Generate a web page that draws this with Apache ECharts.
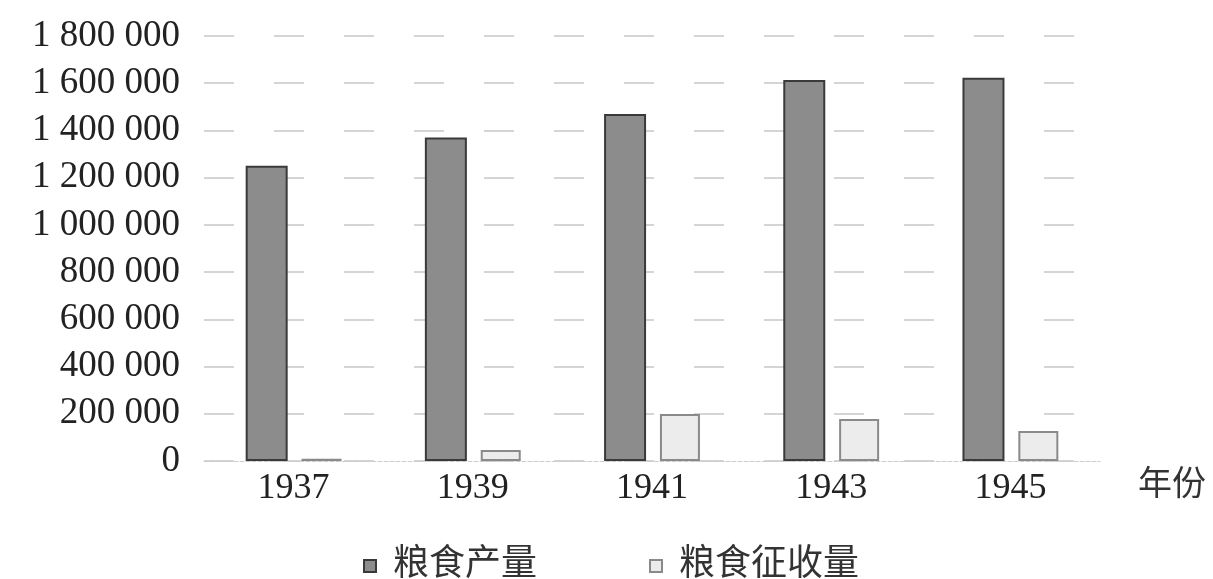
<!DOCTYPE html>
<html>
<head>
<meta charset="utf-8">
<script src="https://cdn.jsdelivr.net/npm/echarts@6/dist/echarts.min.js"></script>
<style>
html,body{margin:0;padding:0;background:#fff;}
#main{width:1213px;height:579px;}
</style>
</head>
<body>
<div id="main"></div>
<script>
var categories = ['1937', '1939', '1941', '1943', '1945'];
var production = [1250000, 1370000, 1470000, 1614000, 1623000];
var collection = [10000, 47000, 199000, 178000, 127000];
var seriesNames = ['粮食产量', '粮食征收量'];
var xAxisName = '年份';

function fmt(v) {
  return String(v).replace(/\B(?=(\d{3})+(?!\d))/g, ' ');
}

var fontFam = '"Liberation Serif", "Noto Sans CJK SC", serif';
var chart = echarts.init(document.getElementById('main'));
chart.setOption({
  backgroundColor: '#ffffff',
  animation: false,
  textStyle: { fontFamily: fontFam },
  grid: { left: 204, right: 113, top: 36, bottom: 118, containLabel: false },
  legend: {
    data: seriesNames,
    left: 358,
    top: 543,
    itemWidth: 12,
    itemHeight: 12,
    itemGap: 112,
    textStyle: { fontFamily: fontFam, fontSize: 36, color: '#333', padding: [0, 0, 0, 12] },
    icon: 'rect'
  },
  xAxis: {
    type: 'category',
    data: categories,
    name: xAxisName,
    nameLocation: 'end',
    nameGap: 38,
    nameTextStyle: { fontFamily: fontFam, fontSize: 34, color: '#333', verticalAlign: 'top', padding: [8, 0, 0, 0] },
    axisLine: { show: true, lineStyle: { color: '#ccc', type: 'dashed', width: 1 } },
    axisTick: { show: false },
    axisLabel: { fontFamily: fontFam, fontSize: 36, color: '#222', margin: 10 }
  },
  yAxis: {
    type: 'value',
    min: 0,
    max: 1800000,
    interval: 200000,
    axisLine: { show: false },
    axisTick: { show: false },
    splitLine: { show: true, lineStyle: { color: '#c8c8c8', type: [30, 40], width: 1.5 } },
    axisLabel: { fontFamily: fontFam, fontSize: 37, color: '#222', margin: 24, formatter: fmt }
  },
  series: [
    {
      name: seriesNames[0],
      type: 'bar',
      data: production,
      barWidth: 42,
      barGap: '33%',
      itemStyle: { color: '#8c8c8c', borderColor: '#3a3a3a', borderWidth: 2 }
    },
    {
      name: seriesNames[1],
      type: 'bar',
      data: collection,
      barWidth: 40,
      itemStyle: { color: '#ececec', borderColor: '#8a8a8a', borderWidth: 2 }
    }
  ]
});
</script>
</body>
</html>
